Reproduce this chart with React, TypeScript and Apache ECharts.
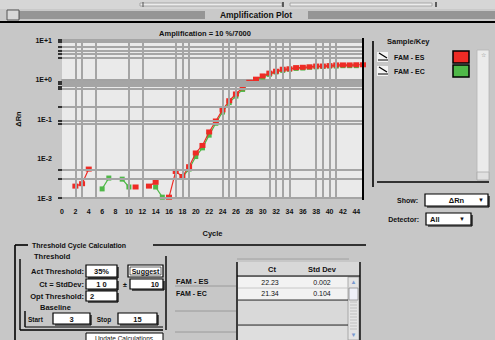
import React, { useEffect, useRef } from "react";
import * as echarts from "echarts";

// ---------- data ----------
const cycles = [
  1, 2, 3, 4, 5, 6, 7, 8, 9, 10, 11, 12, 13, 14, 15, 16, 17, 18, 19, 20, 21, 22, 23,
  24, 25, 26, 27, 28, 29, 30, 31, 32, 33, 34, 35, 36, 37, 38, 39, 40, 41, 42, 43, 44, 45,
];
// ΔRn, FAM - ES (red)
const famES: (number | null)[] = [
  null, 0.002, 0.0023, 0.0054, null, null, null, null, null, null, 0.0019, null, 0.002,
  0.0025, null, 0.00105, 0.0047, 0.0035, 0.0062, 0.0138, 0.0214, 0.047, 0.089, 0.17,
  0.29, 0.43, 0.62, 0.85, 1.02, 1.23, 1.45, 1.62, 1.82, 1.86, 2.0, 2.04, 2.09, 2.19,
  2.19, 2.24, 2.34, 2.34, 2.34, 2.36, 2.36,
];
// ΔRn, FAM - EC (green)
const famEC: (number | null)[] = [
  null, null, null, null, null, 0.0017, 0.0032, null, 0.003, 0.0019, null, null, null,
  0.0019, 0.00105, null, null, 0.0034, 0.0054, 0.0112, 0.0186, 0.039, 0.078, 0.15,
  0.26, 0.38, 0.56, 0.79, 0.95, 1.15, 1.35, 1.55, 1.7, 1.82, 1.91, 1.95, 2.04, 2.09,
  2.14, 2.19, 2.19, 2.24, 2.24, 2.24, null,
];
const seriesNames = ["FAM - ES", "FAM - EC"];
const seriesColors = ["#ee2b25", "#4fb848"];
// grid / tick positions (axis units)
const xGridCycles = [2, 3, 5, 10, 12, 17, 18, 19, 24, 25, 26, 31, 32, 33, 34, 38, 39, 40, 41];
const yGridValues = [10, 9.2, 6.8, 5.3, 4.4, 3.6, 0.89, 0.77, 0.67, 0.57, 0.2, 0.089, 0.075, 0.0051, 0.003, 0.001];
const tableRows = [
  ["FAM - ES", "22.23", "0.002"],
  ["FAM - EC", "21.34", "0.104"],
];

const FONT = '"Liberation Sans", Arial, sans-serif';

function T(x: number, y: number, text: string, o: any = {}) {
  const align = o.align ?? "left";
  return {
    type: "text",
    x,
    y,
    silent: true,
    z: o.z ?? 20,
    rotation: o.rotation ?? 0,
    style: {
      text,
      fill: o.fill ?? "#111",
      font: `${o.bold === false ? "" : "bold "}${o.size ?? 8}px ${FONT}`,
      textAlign: align,
      align,
      textVerticalAlign: "middle",
      verticalAlign: "middle",
    },
  };
}
function R(x: number, y: number, w: number, h: number, fill: string, stroke?: string, lw = 1, z = 10) {
  return {
    type: "rect",
    silent: true,
    z,
    shape: { x, y, width: w, height: h },
    style: { fill, stroke: stroke ?? null, lineWidth: lw },
  };
}
function L(x1: number, y1: number, x2: number, y2: number, stroke = "#000", lw = 1, z = 12) {
  return { type: "line", silent: true, z, shape: { x1, y1, x2, y2 }, style: { stroke, lineWidth: lw } };
}
function Box(x: number, y: number, w: number, h: number, text: string, align = "center") {
  const tx = align === "center" ? x + w / 2 : align === "right" ? x + w - 4 : x + 4;
  return [
    R(x, y, w, h, "#ffffff", "#000", 1.2),
    L(x + 2, y + h + 1, x + w + 1, y + h + 1, "#000", 1.2),
    L(x + w + 1, y + 2, x + w + 1, y + h + 1, "#000", 1.2),
    T(tx, y + h / 2 + 0.5, text, { align, size: 7.5 }),
  ];
}

function buildGraphics() {
  const g: any[] = [];
  // top strip
  g.push(R(0, 0, 495, 9, "#d6d6d6"));
  g.push(R(140, 3, 142, 3, "#ececec", "#9a9a9a", 0.8));
  g.push(R(290, 3, 142, 3, "#ececec", "#9a9a9a", 0.8));
  g.push(L(143, 2, 143, 7, "#555", 1), L(283, 2, 283, 7, "#333", 1.5), L(436, 2, 436, 7, "#333", 1.5));
  // title bar
  g.push(R(0, 9, 495, 12, "#c9c9c9"));
  g.push(R(7, 11, 198, 8, "#8e8e8e"));
  g.push(R(308, 11, 187, 8, "#8e8e8e"));
  for (let y = 12; y < 19; y += 2) {
    g.push(L(20, y, 205, y, "#a8a8a8", 0.6));
    g.push(L(308, y, 495, y, "#a8a8a8", 0.6));
  }
  g.push(R(7, 10, 12, 10, "#d8d8d8", "#555", 1));
  g.push(T(256, 15, "Amplification Plot", { align: "center", size: 8.5 }));
  g.push(L(0, 22, 495, 22, "#000", 2));
  // subtitle
  g.push(T(205, 33, "Amplification = 10 %/7000", { align: "center", size: 7.5 }));
  // plot right border
  g.push(L(363, 38, 363, 200, "#000", 2));
  // sample/key panel
  g.push(L(373, 41, 373, 187, "#000", 1.6));
  g.push(L(377, 182, 489, 182, "#000", 1.4));
  g.push(T(387, 41, "Sample/Key", { size: 7.5 }));
  const rowsY = [57, 71];
  rowsY.forEach((yy, i) => {
    g.push(R(377, yy - 5, 11, 10, "#f4f4f4"));
    g.push(L(379, yy - 4, 387, yy + 1, "#000", 1.2));
    g.push(L(378, yy + 3, 388, yy + 3, "#000", 1));
    g.push(T(394, yy, seriesNames[i], { size: 7, bold: true }));
    g.push(R(453, yy - 6, 16, 12, seriesColors[i], "#000", 1.5));
  });
  g.push(R(477, 50, 12, 130, "#ebebeb", "#b5b5b5", 0.8));
  g.push(T(483, 55, "☆", { align: "center", size: 6, fill: "#888", bold: false }));
  g.push(R(477, 172, 12, 8, "#e0e0e0", "#aaa", 0.8));
  // show / detector
  g.push(T(418, 200, "Show:", { align: "right", size: 7 }));
  g.push(...Box(425, 194, 63, 12, "ΔRn", "center"));
  g.push(T(481, 200, "▼", { align: "center", size: 6 }));
  g.push(T(419, 219, "Detector:", { align: "right", size: 7 }));
  g.push(...Box(426, 213, 45, 12, "All", "left"));
  g.push(T(462, 219, "▼", { align: "center", size: 6 }));

  // bottom: threshold group
  g.push(L(15, 245, 28, 245, "#000", 1.6));
  g.push(T(32, 245, "Threshold Cycle Calculation", { size: 7 }));
  g.push(L(153, 245, 366, 245, "#000", 1.6));
  g.push(L(15, 245, 15, 340, "#000", 1.6));
  g.push(T(34, 256, "Threshold", { size: 7.5 }));
  g.push(L(20, 259, 20, 330, "#000", 1.4));
  g.push(L(20, 330, 163, 330, "#000", 1.4));
  g.push(L(166, 256, 166, 330, "#000", 1.4));
  g.push(T(84, 271, "Act Threshold:", { align: "right", size: 7.5 }));
  g.push(...Box(86, 265, 31, 12, "35%"));
  g.push(R(128, 265, 35, 12, "#fff", "#000", 1.2));
  g.push(R(130, 267, 31, 8, "#fff", "#000", 0.6));
  g.push(T(145.5, 271, "Suggest", { align: "center", size: 7 }));
  g.push(T(84, 284, "Ct = StdDev:", { align: "right", size: 7.5 }));
  g.push(...Box(86, 279, 31, 10, "1 0"));
  g.push(T(125, 284, "±", { align: "center", size: 7 }));
  g.push(...Box(130, 279, 33, 10, "10", "right"));
  g.push(T(84, 296, "Opt Threshold:", { align: "right", size: 7.5 }));
  g.push(...Box(86, 291, 31, 10, "2", "left"));
  g.push(T(40, 307, "Baseline", { size: 7.5 }));
  g.push(L(25, 311, 25, 327, "#000", 1.4));
  g.push(T(28, 319, "Start", { size: 6.5 }));
  g.push(...Box(53, 313, 37, 11, "3"));
  g.push(T(104, 319, "Stop", { align: "center", size: 6.5 }));
  g.push(...Box(118, 313, 39, 11, "15"));
  g.push(L(25, 327, 163, 327, "#000", 1));
  g.push(R(86, 333, 77, 10, "#fff", "#000", 1));
  g.push(T(124, 338, "Update Calculations", { align: "center", size: 6.5, bold: false }));

  // table
  g.push(T(176, 281, tableRows[0][0], { size: 7.5 }));
  g.push(L(175, 286, 236, 286, "#9a9a9a", 1));
  g.push(T(176, 293, tableRows[1][0], { size: 7 }));
  g.push(L(175, 311, 236, 311, "#9a9a9a", 1));
  g.push(L(175, 332, 236, 332, "#9a9a9a", 1));
  g.push(L(237, 259, 349, 259, "#a0a0a0", 1));
  g.push(R(238, 262, 121, 14, "#d8d8d8"));
  g.push(L(237, 262, 237, 340, "#000", 1.4));
  g.push(L(360, 262, 360, 340, "#000", 1.4));
  g.push(L(237, 276, 360, 276, "#000", 1));
  g.push(T(272, 269, "Ct", { align: "center", size: 7.5 }));
  g.push(T(322, 269, "Std Dev", { align: "center", size: 7.5 }));
  g.push(R(238, 277, 110, 23, "#f2f2f2"));
  g.push(L(238, 288, 348, 288, "#bdbdbd", 0.8));
  g.push(L(238, 300, 348, 300, "#000", 0.8));
  g.push(R(238, 301, 110, 24, "#d9d9d9"));
  g.push(L(238, 325, 348, 325, "#000", 0.8));
  g.push(R(238, 326, 110, 14, "#dedede"));
  tableRows.forEach((r, i) => {
    const yy = 282 + i * 11;
    g.push(T(270, yy, r[1], { align: "center", size: 7, bold: false }));
    g.push(T(322, yy, r[2], { align: "center", size: 7, bold: false }));
  });
  g.push(R(348, 277, 11, 63, "#e4e4e4", "#999", 0.8));
  g.push(T(353.5, 282, "▲", { align: "center", size: 6, fill: "#7a9ad0", bold: false }));
  g.push(R(349, 288, 9, 12, "#eef0f8", "#8a8a8a", 0.8));
  for (let y = 302; y < 330; y += 3) g.push(L(350, y, 357, y, "#aaa", 0.6));
  g.push(T(353.5, 335, "▼", { align: "center", size: 6, fill: "#7a9ad0", bold: false }));
  return g;
}

const toLog = (arr: (number | null)[]) =>
  cycles.map((c, i) => [c, arr[i] == null ? "-" : Math.log10(arr[i] as number)]);

export default function App() {
  const ref = useRef<HTMLDivElement>(null);
  useEffect(() => {
    if (!ref.current) return;
    const chart = echarts.init(ref.current, undefined, { renderer: "svg" });
    const yLog = yGridValues.map((v) => Math.log10(v));
    const option: any = {
      animation: false,
      backgroundColor: "#c7c7c7",
      textStyle: { fontFamily: FONT },
      grid: { left: 62, top: 40, width: 301, height: 158, show: true, backgroundColor: "#eaeaea", borderWidth: 0 },
      xAxis: {
        type: "value",
        min: 0,
        max: 45,
        interval: 2,
        name: "Cycle",
        nameLocation: "middle",
        nameGap: 31,
        nameTextStyle: { fontSize: 7.5, fontWeight: "bold", color: "#111", fontFamily: FONT },
        axisLine: { show: true, lineStyle: { color: "#a3a3a3", width: 2 } },
        axisTick: { show: true, customValues: xGridCycles, length: 5, lineStyle: { color: "#000", width: 1.5 } },
        axisLabel: { interval: 0, fontSize: 7, fontWeight: "bold", color: "#111", margin: 10, showMaxLabel: false, fontFamily: FONT },
        splitLine: { show: false },
      },
      yAxis: {
        type: "value",
        min: -3,
        max: 1,
        interval: 1,
        name: "ΔRn",
        nameLocation: "middle",
        nameGap: 40,
        nameRotate: 90,
        nameTextStyle: { fontSize: 7.5, fontWeight: "bold", color: "#111", fontFamily: FONT },
        axisLine: { show: false },
        axisTick: { show: true, customValues: yLog, length: 4, lineStyle: { color: "#000", width: 1.5 } },
        axisLabel: {
          fontSize: 7,
          fontWeight: "bold",
          color: "#111",
          margin: 10,
          fontFamily: FONT,
          formatter: (v: number) => `1E${v >= 0 ? "+" : "-"}${Math.abs(Math.round(v))}`,
        },
        splitLine: { show: false },
      },
      series: [
        {
          type: "line",
          data: [],
          silent: true,
          z: 1,
          markLine: {
            silent: true,
            symbol: ["none", "none"],
            label: { show: false },
            emphasis: { disabled: true },
            lineStyle: { color: "#a5a5a5", width: 2, type: "solid" },
            data: [...xGridCycles.map((v) => ({ xAxis: v })), ...yLog.map((v) => ({ yAxis: v }))],
          },
        },
        {
          name: seriesNames[1],
          type: "line",
          z: 3,
          data: toLog(famEC),
          symbol: "rect",
          symbolSize: [5, 5],
          itemStyle: { color: seriesColors[1] },
          lineStyle: { color: seriesColors[1], width: 1.2 },
          connectNulls: false,
        },
        {
          name: seriesNames[0],
          type: "line",
          z: 4,
          data: toLog(famES),
          symbol: "rect",
          symbolSize: [6, 5],
          itemStyle: { color: seriesColors[0] },
          lineStyle: { color: seriesColors[0], width: 1.2 },
          connectNulls: false,
        },
      ],
      graphic: { elements: buildGraphics() },
    };
    chart.setOption(option);
    return () => chart.dispose();
  }, []);
  return <div ref={ref} style={{ position: "absolute", left: 0, top: 0, width: 495, height: 340 }} />;
}
